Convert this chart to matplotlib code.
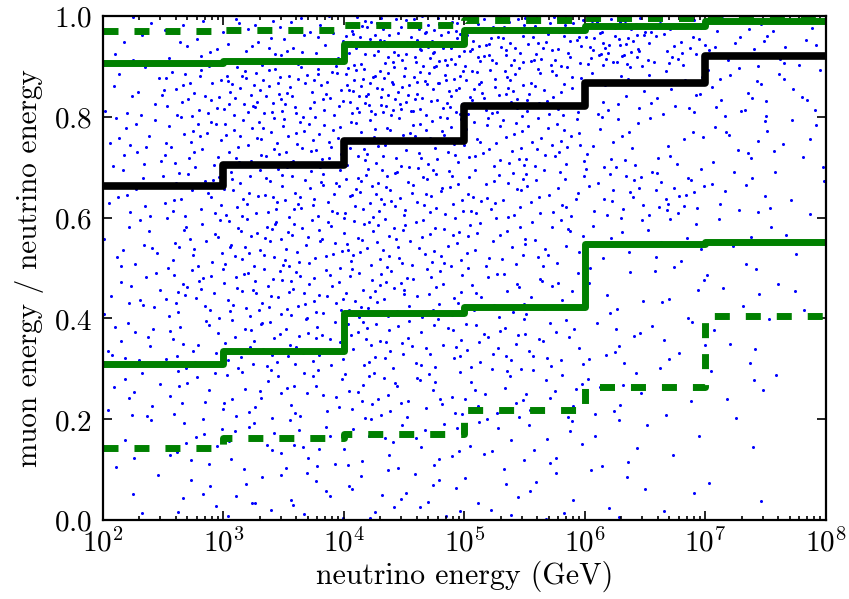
import matplotlib
matplotlib.use("Agg")
import matplotlib.pyplot as plt
import numpy as np
from matplotlib.ticker import FuncFormatter, LogLocator, MultipleLocator

plt.rcParams['mathtext.fontset'] = 'cm'
plt.rcParams['lines.scale_dashes'] = False

# energy bin edges (GeV), one bin per decade
edges = [1e2, 1e3, 1e4, 1e5, 1e6, 1e7, 1e8]

# quantile curves of muon / neutrino energy per decade
median = [0.663, 0.704, 0.752, 0.822, 0.867, 0.920]
upper_1s = [0.906, 0.911, 0.944, 0.973, 0.980, 0.991]
lower_1s = [0.310, 0.336, 0.410, 0.422, 0.547, 0.552]
upper_2s = [0.971, 0.973, 0.982, 0.992, 0.996, 0.999]
lower_2s = [0.142, 0.162, 0.171, 0.219, 0.264, 0.405]

# scatter density: number of events per cell
# columns = half decades from 10^2 to 10^8, rows = y bins of 0.1 from 0 to 1
xcells = np.arange(2.0, 8.01, 0.5)
ycells = np.arange(0.0, 1.01, 0.1)
counts = np.array([
    [3, 6, 8, 8, 9, 9, 6, 6, 5, 2, 2, 0],
    [4, 10, 10, 12, 12, 10, 8, 8, 5, 3, 1, 0],
    [10, 12, 15, 15, 18, 14, 14, 12, 8, 2, 5, 1],
    [12, 15, 20, 20, 22, 18, 18, 15, 9, 7, 4, 1],
    [11, 20, 25, 25, 25, 20, 15, 12, 6, 6, 5, 3],
    [11, 18, 25, 25, 28, 22, 18, 15, 8, 9, 4, 3],
    [10, 20, 25, 25, 30, 25, 22, 18, 19, 20, 9, 5],
    [14, 20, 25, 28, 25, 25, 25, 22, 14, 8, 9, 8],
    [11, 24, 35, 30, 45, 40, 35, 25, 15, 15, 15, 8],
    [7, 13, 17, 20, 40, 45, 40, 35, 50, 28, 14, 14],
])


def halton(i, b):
    f, r = 1.0, 0.0
    while i > 0:
        f /= b
        r += f * (i % b)
        i //= b
    return r


# spread each cell's events over the cell; x and y walk separate
# van der Corput runs so the points do not line up on a lattice
xs, ys = [], []
for r in range(counts.shape[0]):
    for c in range(counts.shape[1]):
        cell = r * 12 + c
        for k in range(counts[r, c]):
            xs.append(10 ** (xcells[c] + 0.5 * halton(101 + 997 * cell + 409 * k, 2)))
            ys.append(ycells[r] + 0.1 * halton(57 + 1231 * cell + 577 * k, 3))

fig = plt.figure(figsize=(8.49, 5.99), dpi=100)
ax = fig.add_axes([0.1213, 0.1319, 0.8516, 0.8414])

ax.plot(xs, ys, 'o', color='b', ms=2.2, mew=0, zorder=1)

green = '#008000'


def stepvals(v):
    return list(v) + [v[-1]]


ax.step(edges, stepvals(lower_2s), where='post', color=green, lw=5,
        dashes=(10.8, 11.5), dash_capstyle='butt', zorder=2)
ax.step(edges, stepvals(upper_2s), where='post', color=green, lw=5,
        dashes=(10.8, 11.5), dash_capstyle='butt', zorder=2)
ax.step(edges, stepvals(lower_1s), where='post', color=green, lw=5,
        solid_joinstyle='round', zorder=3)
ax.step(edges, stepvals(upper_1s), where='post', color=green, lw=5,
        solid_joinstyle='round', zorder=3)
ax.step(edges, stepvals(median), where='post', color='k', lw=5.5,
        solid_joinstyle='round', zorder=4)

ax.set_xscale('log')
ax.set_xlim(1e2, 1e8)
ax.set_ylim(0, 1)

ax.xaxis.set_major_locator(LogLocator(base=10, numticks=10))
ax.xaxis.set_minor_locator(LogLocator(base=10, subs=np.arange(2, 10), numticks=20))
ax.xaxis.set_major_formatter(FuncFormatter(lambda v, p: r'$10^{%d}$' % round(np.log10(v))))
ax.yaxis.set_major_locator(MultipleLocator(0.2))
ax.yaxis.set_major_formatter(FuncFormatter(lambda v, p: r'$%.1f$' % v))

ax.tick_params(which='both', direction='in', top=True, right=True, width=1.2,
               labelsize=21, colors='k')
ax.tick_params(which='major', length=6.5)
ax.tick_params(which='minor', length=3)
ax.tick_params(axis='x', which='major', pad=6)
ax.tick_params(axis='y', which='major', pad=8)
for s in ax.spines.values():
    s.set_linewidth(1.6)
    s.set_zorder(5)

ax.set_xlabel('neutrino energy (GeV)', fontfamily='cmr10', fontsize=21.5, labelpad=2)
ax.set_ylabel('muon energy / neutrino energy', fontfamily='cmr10', fontsize=21, labelpad=7)

fig.savefig('out.png', dpi=100)
